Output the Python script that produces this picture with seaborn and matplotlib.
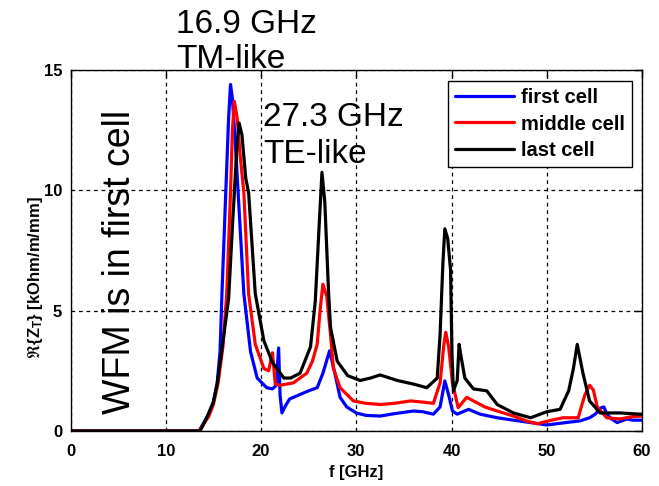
import numpy as np
import pandas as pd
import matplotlib
matplotlib.use("Agg")
import matplotlib.pyplot as plt
import seaborn as sns

# ---- data ----
f_first = [0, 13.5, 14, 14.5, 15, 15.4, 15.7, 15.9, 16.3, 16.6, 16.8, 17.0, 17.3, 17.6, 18.2, 18.9,
           19.6, 20.6, 21.2, 21.6, 21.85, 22.0, 22.2, 22.5, 23, 24, 25, 25.9, 26.5, 27.2, 27.7, 28.3,
           29, 30, 31, 32.5, 34, 36, 37, 38.1, 38.8, 39.3, 39.7, 40.1, 40.6, 41.2, 41.8, 43, 44.8,
           46.5, 48.3, 50, 52, 53.5, 54.5, 55.1, 55.6, 56.0, 56.3, 56.8, 57.4, 58.4, 59, 60]
z_first = [0, 0, 0.35, 0.7, 1.2, 2.0, 3.3, 5.7, 9.9, 13.0, 14.4, 13.8, 12.0, 9.9, 5.7, 3.3,
           2.2, 1.8, 1.75, 1.9, 3.45, 1.5, 0.75, 1.0, 1.33, 1.5, 1.67, 1.8, 2.4, 3.33, 2.5, 1.4,
           1.0, 0.75, 0.65, 0.62, 0.72, 0.83, 0.8, 0.7, 1.0, 2.08, 1.5, 0.83, 0.7, 0.8, 0.9, 0.7, 0.55,
           0.45, 0.35, 0.25, 0.35, 0.42, 0.55, 0.7, 0.95, 1.0, 0.7, 0.5, 0.35, 0.5, 0.45, 0.45]

f_middle = [0, 13.5, 14, 14.5, 15, 15.5, 16, 16.4, 16.8, 17.0, 17.2, 17.5, 17.8, 18.2, 18.7, 19.4,
            20.3, 20.8, 21.2, 21.5, 22, 23.4, 24.8, 25.4, 25.9, 26.2, 26.5, 26.9, 27.3, 27.6, 28.3,
            29.7, 31, 32.5, 34, 35.7, 37, 38.1, 38.8, 39.2, 39.4, 39.7, 40.1, 40.7, 41.6, 42.3, 43.5,
            44.8, 46.5, 48, 49, 50.5, 51.7, 53.3, 54, 54.5, 54.9, 55.3, 56.3, 57.7, 59, 60]
z_middle = [0, 0, 0.3, 0.6, 1.1, 2.0, 3.5, 5.7, 9.9, 12.5, 13.7, 13.0, 11.5, 9.9, 5.7, 3.6,
            2.6, 2.5, 3.25, 1.95, 1.9, 2.0, 2.4, 2.9, 3.6, 5.0, 6.1, 5.6, 4.0, 2.6, 1.8,
            1.25, 1.15, 1.1, 1.15, 1.25, 1.2, 1.15, 2.0, 3.6, 4.1, 3.5, 2.0, 0.97, 1.4, 1.25, 1.0,
            0.83, 0.62, 0.4, 0.3, 0.45, 0.55, 0.55, 1.5, 1.9, 1.7, 1.0, 0.55, 0.5, 0.6, 0.62]

f_last = [0, 13.6, 14.3, 15, 15.4, 16.1, 16.6, 17.0, 17.2, 17.5, 17.7, 18.0, 18.4, 18.7, 19.4,
          20.3, 21.2, 22.4, 23.1, 24.1, 25.2, 25.7, 26.1, 26.4, 26.7, 27.1, 27.3, 28, 29.1, 30.4,
          31.5, 32.5, 34.3, 36, 37.4, 38.5, 38.8, 39.1, 39.3, 39.6, 39.9, 40.05, 40.2, 40.6, 40.8,
          41.0, 41.4, 42.3, 43.7, 44.8, 46.5, 48.3, 50, 51.4, 52.3, 52.8, 53.2, 53.8, 54.5, 55.6,
          57.7, 59.8, 60]
z_last = [0, 0, 0.55, 1.2, 1.95, 4.0, 5.5, 8.5, 9.9, 12.0, 12.8, 12.3, 10.5, 9.9, 5.7,
          3.75, 2.85, 2.2, 2.2, 2.4, 3.5, 5.4, 8.5, 10.75, 9.5, 5.7, 4.3, 2.9, 2.3, 2.1,
          2.2, 2.33, 2.1, 1.95, 1.8, 2.2, 4.0, 7.0, 8.4, 8.0, 6.7, 3.2, 1.67, 2.1, 3.6,
          3.1, 2.2, 1.75, 1.67, 1.1, 0.75, 0.55, 0.8, 0.9, 1.67, 2.6, 3.6, 2.4, 1.25, 0.75,
          0.75, 0.7, 0.7]

series_names = ["first cell", "middle cell", "last cell"]
series_colors = ["#0000ff", "#ff0000", "#000000"]
x_ticks = [0, 10, 20, 30, 40, 50, 60]
y_ticks = [0, 5, 10, 15]

df = pd.concat([
    pd.DataFrame({"f": f_first, "z": z_first, "cell": series_names[0]}),
    pd.DataFrame({"f": f_middle, "z": z_middle, "cell": series_names[1]}),
    pd.DataFrame({"f": f_last, "z": z_last, "cell": series_names[2]}),
], ignore_index=True)

sns.set_style("white", {"text.color": "black", "axes.labelcolor": "black",
                        "xtick.color": "black", "ytick.color": "black",
                        "axes.edgecolor": "black"})
plt.rcParams["font.family"] = ["Liberation Sans", "DejaVu Sans"]
plt.rcParams["mathtext.fontset"] = "custom"
plt.rcParams["mathtext.rm"] = "Liberation Sans:bold"
plt.rcParams["mathtext.bf"] = "Liberation Sans:bold"
plt.rcParams["mathtext.it"] = "Liberation Sans:bold"
plt.rcParams["mathtext.fallback"] = "stix"

fig = plt.figure(figsize=(6.59, 4.86), dpi=100)
ax = fig.add_axes([70.5 / 659, 1 - 431 / 486, (642 - 70.5) / 659, (431 - 70) / 486])

sns.lineplot(data=df, x="f", y="z", hue="cell", hue_order=series_names,
             palette=dict(zip(series_names, series_colors)), linewidth=2.3,
             sort=False, estimator=None, ax=ax)

ax.set_xlim(0, 60)
ax.set_ylim(0, 15)
ax.set_xticks(x_ticks)
ax.set_yticks(y_ticks)
ax.grid(True, color="black", linestyle=(0, (3, 3)), linewidth=0.9)
for s in ax.spines.values():
    s.set_color("black")
    s.set_linewidth(1.0)
ax.tick_params(direction="in", length=5, width=1, top=True, right=True,
               labelsize=12, colors="black")
ax.tick_params(axis="x", pad=9)
ax.tick_params(axis="y", pad=6)
for lab in ax.get_xticklabels() + ax.get_yticklabels():
    lab.set_fontweight("bold")

ax.set_xlabel("f [GHz]", fontsize=12, fontweight="bold")
ax.xaxis.set_label_coords(0.5, -(472 - 431) / 361, transform=ax.transAxes)
ax.xaxis.label.set_va("center")
ax.set_ylabel(r"$\Re\{Z_{T}\}$ [kOhm/m/mm]", fontsize=12, fontweight="bold")
ax.yaxis.set_label_coords(-(70.5 - 35) / 571.5, (431 - 278) / 361, transform=ax.transAxes)
ax.yaxis.label.set_va("center")

leg = ax.legend(loc="upper right", bbox_to_anchor=(0.982, 0.970), frameon=True,
                fancybox=False, edgecolor="black", framealpha=1, borderpad=0.35,
                handlelength=2.9, handletextpad=0.35,
                prop={"weight": "bold", "size": 14.5},
                borderaxespad=0, labelspacing=0.38)
leg.get_frame().set_linewidth(1.0)
for line in leg.get_lines():
    line.set_linewidth(2.3)

fig.text(176 / 659, 1 - 33 / 486, "16.9 GHz", fontsize=24, va="baseline", ha="left", color="black")
fig.text(176 / 659, 1 - 68 / 486, "TM-like", fontsize=24, va="baseline", ha="left", color="black")
fig.text(263 / 659, 1 - 126 / 486, "27.3 GHz", fontsize=24, va="baseline", ha="left", color="black")
fig.text(263 / 659, 1 - 163 / 486, "TE-like", fontsize=24, va="baseline", ha="left", color="black")
fig.text(120 / 659, 1 - 262 / 486, "WFM is in first cell", fontsize=27, rotation=90,
         va="center", ha="center", color="black")

fig.savefig("out.png", dpi=100)
